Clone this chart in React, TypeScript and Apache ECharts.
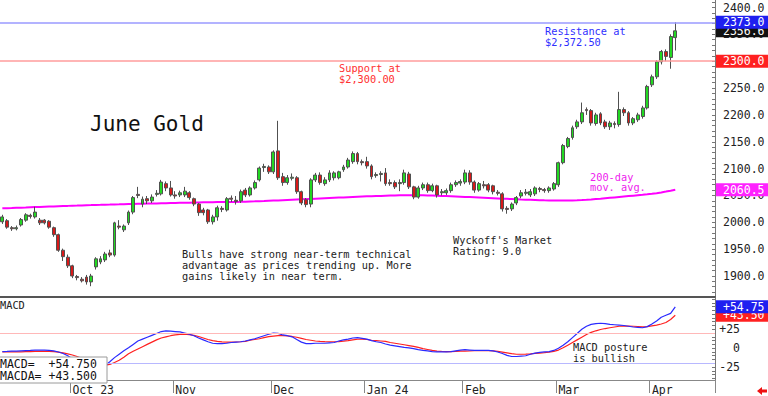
import React, { useEffect, useRef } from 'react';
import * as echarts from 'echarts';

// ---------- categories (trading days) ----------
const START = '2023-09-11';
const END = '2024-04-08';
const HOLIDAYS = ['2023-11-23', '2023-12-25', '2024-01-01', '2024-01-15', '2024-02-19', '2024-03-29'];
const PAD_SLOTS = 8;
const MONTH_STARTS = ['2023-10-02', '2023-11-01', '2023-12-01', '2024-01-02', '2024-02-01', '2024-03-01', '2024-04-01'];
const MONTH_LABELS = ['Oct 23', 'Nov', 'Dec', 'Jan 24', 'Feb', 'Mar', 'Apr'];

// ---------- price data (June gold) ----------
const OPEN = [
  2001, 2003, 1990, 1988, 1995, 2004, 2013, 2010, 2004, 2004,
  2002, 1990, 1977, 1948, 1935, 1919, 1899, 1894, 1898, 1889,
  1917, 1926, 1930, 1943, 1939, 1993, 1986, 1999, 2019, 2052,
  2034, 2044, 2040, 2052, 2053, 2072, 2064, 2051, 2051, 2051,
  2055, 2044, 2034, 2023, 2023, 2001, 2010, 2026, 2023, 2045,
  2041, 2040, 2060, 2051, 2064, 2079, 2102, 2103, 2094, 2133,
  2085, 2074, 2082, 2083, 2057, 2042, 2034, 2079, 2088, 2072,
  2079, 2083, 2083, 2098, 2103, 2113, 2128, 2113, 2113, 2105,
  2087, 2089, 2092, 2074, 2074, 2072, 2074, 2090, 2066, 2047,
  2064, 2070, 2059, 2068, 2055, 2055, 2059, 2070, 2073, 2075,
  2092, 2075, 2060, 2070, 2070, 2068, 2056, 2053, 2026, 2025,
  2036, 2049, 2054, 2051, 2053, 2063, 2061, 2059, 2062, 2070,
  2111, 2141, 2158, 2178, 2187, 2210, 2208, 2184, 2202, 2187,
  2178, 2184, 2182, 2210, 2204, 2185, 2191, 2197, 2213, 2256,
  2271, 2299, 2318, 2307, 2344,
];
const CLOSE = [
  2010, 1991, 1988, 1990, 2005, 2014, 2011, 2019, 1999, 1999,
  1991, 1977, 1948, 1936, 1919, 1900, 1897, 1891, 1889, 1900,
  1932, 1932, 1941, 1939, 1999, 1991, 1993, 2019, 2046, 2050,
  2043, 2040, 2047, 2054, 2075, 2064, 2051, 2049, 2055, 2058,
  2046, 2034, 2018, 2018, 2001, 2010, 2027, 2024, 2044, 2043,
  2039, 2057, 2051, 2064, 2074, 2101, 2104, 2094, 2131, 2083,
  2074, 2083, 2084, 2057, 2036, 2033, 2079, 2088, 2074, 2079,
  2092, 2092, 2094, 2103, 2116, 2128, 2113, 2111, 2105, 2085,
  2089, 2091, 2072, 2072, 2066, 2074, 2092, 2066, 2047, 2064,
  2070, 2059, 2068, 2051, 2057, 2059, 2070, 2074, 2076, 2092,
  2075, 2060, 2072, 2068, 2060, 2057, 2054, 2025, 2024, 2034,
  2046, 2055, 2056, 2057, 2064, 2061, 2059, 2064, 2072, 2111,
  2143, 2156, 2176, 2187, 2204, 2208, 2185, 2200, 2185, 2178,
  2185, 2182, 2210, 2204, 2185, 2193, 2200, 2213, 2253, 2271,
  2299, 2318, 2309, 2346, 2356.6,
];
const LOW = [
  1997, 1988, 1984, 1985, 1992, 2001, 2007, 2007, 1995, 1996,
  1988, 1973, 1945, 1928, 1915, 1896, 1892, 1888, 1884, 1881,
  1912, 1922, 1926, 1935, 1936, 1987, 1982, 1995, 2015, 2045,
  2028, 2034, 2036, 2048, 2050, 2058, 2048, 2044, 2047, 2047,
  2042, 2030, 2012, 2013, 1997, 1996, 2003, 2019, 2020, 2038,
  2033, 2036, 2047, 2048, 2061, 2076, 2094, 2090, 2090, 2079,
  2068, 2070, 2078, 2053, 2032, 2028, 2028, 2075, 2070, 2068,
  2075, 2078, 2080, 2094, 2100, 2109, 2108, 2106, 2100, 2080,
  2083, 2076, 2068, 2068, 2062, 2058, 2070, 2062, 2043, 2044,
  2060, 2055, 2056, 2046, 2050, 2051, 2055, 2066, 2068, 2071,
  2070, 2055, 2057, 2063, 2056, 2052, 2050, 2020, 2016, 2021,
  2032, 2045, 2050, 2047, 2049, 2056, 2055, 2055, 2059, 2066,
  2108, 2138, 2154, 2174, 2183, 2200, 2180, 2180, 2181, 2174,
  2172, 2175, 2178, 2198, 2180, 2181, 2187, 2193, 2210, 2252,
  2267, 2294, 2300, 2286, 2320,
];
const HIGH = [
  2014, 2006, 1993, 1994, 2008, 2017, 2016, 2029, 2008, 2006,
  2004, 1992, 1979, 1951, 1940, 1921, 1902, 1898, 1902, 1904,
  1935, 1937, 1945, 1949, 2001, 2004, 1996, 2022, 2049, 2066,
  2048, 2049, 2052, 2060, 2079, 2076, 2077, 2058, 2059, 2066,
  2058, 2046, 2036, 2027, 2025, 2014, 2031, 2030, 2047, 2050,
  2049, 2061, 2064, 2067, 2078, 2104, 2109, 2106, 2134, 2189,
  2092, 2088, 2091, 2086, 2059, 2045, 2082, 2092, 2093, 2084,
  2097, 2095, 2096, 2107, 2120, 2132, 2131, 2117, 2122, 2108,
  2093, 2095, 2101, 2080, 2078, 2080, 2098, 2094, 2068, 2068,
  2074, 2074, 2072, 2070, 2062, 2063, 2074, 2078, 2080, 2098,
  2097, 2078, 2075, 2077, 2073, 2070, 2060, 2056, 2030, 2037,
  2049, 2060, 2062, 2062, 2067, 2066, 2064, 2067, 2075, 2113,
  2146, 2159, 2180, 2191, 2223, 2214, 2211, 2204, 2205, 2191,
  2189, 2188, 2243, 2214, 2207, 2196, 2204, 2217, 2256, 2275,
  2302, 2321, 2322, 2350, 2372.5,
];
const MA200 = [
  2026, 2026.3, 2026.6, 2027, 2027.3, 2027.6, 2028, 2028.3, 2028.6, 2029,
  2029.3, 2029.6, 2030, 2030.3, 2030.6, 2031, 2031.2, 2031.5, 2031.8, 2032,
  2032.3, 2032.5, 2032.8, 2033, 2033.3, 2033.5, 2033.8, 2034, 2034.2, 2034.4,
  2034.6, 2034.8, 2035, 2035.2, 2035.4, 2035.6, 2035.8, 2036, 2036.2, 2036.4,
  2036.6, 2036.8, 2037, 2037.2, 2037.4, 2037.5, 2037.6, 2037.7, 2037.8, 2037.9,
  2038, 2038.2, 2038.5, 2038.8, 2039, 2039.3, 2039.6, 2040, 2040.4, 2040.8,
  2041.2, 2041.6, 2042, 2042.4, 2042.8, 2043.2, 2043.6, 2044, 2044.4, 2044.8,
  2045.2, 2045.6, 2046, 2046.4, 2046.8, 2047.2, 2047.6, 2048, 2048.3, 2048.6,
  2048.9, 2049.2, 2049.5, 2049.8, 2050, 2050.2, 2050.4, 2050.5, 2050.5, 2050.4,
  2050.2, 2050, 2049.7, 2049.4, 2049.1, 2048.8, 2048.5, 2048.1, 2047.7, 2047.3,
  2046.9, 2046.5, 2046.1, 2045.7, 2045.3, 2044.9, 2044.5, 2044.1, 2043.7, 2043.3,
  2042.9, 2042.5, 2042.2, 2041.9, 2041.6, 2041.3, 2041, 2040.8, 2040.6, 2040.5,
  2040.5, 2040.6, 2040.8, 2041.1, 2041.5, 2042, 2042.6, 2043.3, 2044, 2044.8,
  2045.6, 2046.4, 2047.2, 2048, 2048.8, 2049.6, 2050.4, 2051.2, 2052.1, 2053.1,
  2054.3, 2055.7, 2057.2, 2058.8, 2060.5,
];

// ---------- MACD ----------
const MACD = [
  -4.5, -4.3, -4, -3.8, -3.5, -3.2, -3, -2.6, -2.5, -2.5,
  -2.8, -3.5, -5, -7, -10, -14, -18, -22, -26, -29,
  -30, -27, -23, -18, -12.5, -8, -3.5, 0.5, 5, 9.5,
  12, 14.5, 17, 19.5, 22, 23, 22.5, 22, 21.5, 20,
  18.5, 16.5, 13.5, 11, 8.5, 6.5, 6, 6, 6.5, 7.5,
  8, 8.5, 9.5, 11, 12.5, 14.5, 16.5, 18.5, 20, 19.5,
  17.5, 16.5, 15, 11.5, 8, 6, 6, 6.5, 6.5, 6.5,
  7, 7.5, 9.5, 11, 12, 13.5, 14, 13, 12, 10,
  8.5, 7.5, 5.5, 4, 3, 2, 1, 0.5, -0.5, -2,
  -3, -3.5, -4.5, -5, -5, -5, -4.5, -3.5, -2.5, -2,
  -2.5, -3, -3, -3, -3, -3.5, -5, -7, -9.5, -11,
  -11, -10.5, -10, -8, -6.5, -5.5, -5, -4.5, -3, 0,
  4, 8.5, 14, 19.5, 25, 29, 31.5, 32.5, 33, 32.5,
  31.5, 31, 30.5, 30, 29, 28, 27.5, 27, 28.5, 32,
  36, 41, 43.5, 46, 54.75,
];
const MACDA = [
  -5, -5, -5, -5, -4.8, -4.6, -4.5, -4.3, -4.2, -4.2,
  -4.3, -4.6, -5.2, -6.2, -7.5, -9, -11, -13.5, -16, -18.5,
  -20.5, -22, -22.5, -21.5, -19, -16, -12, -7.5, -4, -1,
  2, 5, 8, 11, 13.5, 15, 16.5, 17.5, 18.3, 18.7,
  18, 17, 15.5, 13.5, 11.5, 10, 9, 8.3, 8, 8,
  8.2, 8.5, 9, 10.5, 11.5, 12.5, 14, 15.2, 16, 16.7,
  16.7, 16.3, 15.5, 14.5, 13, 11.5, 10.5, 9.5, 9, 8.7,
  8.5, 8.5, 8.8, 9.3, 10, 11, 11.8, 12, 11.5, 10.5,
  10, 9.5, 9, 7.5, 6.5, 5.5, 4.5, 3.5, 2.5, 1,
  -0.5, -1.7, -3, -3.8, -4.2, -4.5, -4.5, -4.3, -4, -4,
  -3.7, -3.4, -3.3, -3.3, -3.3, -3.5, -4.2, -5.2, -6.2, -7.2,
  -8, -8, -7.8, -7.5, -7, -6.5, -6, -5.2, -4.3, -2.5,
  0.5, 4, 7.5, 11, 14.5, 18, 21, 23, 24.7, 26,
  27, 28, 29, 29.2, 29.2, 29, 28.7, 28.3, 28.5, 29.5,
  30.5, 32, 34, 38, 43.5,
];

const PRICE_TICKS = [1900, 1950, 2000, 2050, 2100, 2150, 2200, 2250, 2300, 2350, 2400];
const MACD_TICKS = [-25, 0, 25];
const RESISTANCE = 2372.5;
const SUPPORT = 2300;
const MACD_BANDS = [20, -20];

const MONO = '"DejaVu Sans Mono", monospace';
const HIDDEN_LINE = { color: 'rgba(0,0,0,0)', width: 0 };

function buildDates(): string[] {
  const out: string[] = [];
  const d = new Date(START + 'T00:00:00Z');
  const end = new Date(END + 'T00:00:00Z');
  while (d <= end) {
    const dow = d.getUTCDay();
    const s = d.toISOString().slice(0, 10);
    if (dow !== 0 && dow !== 6 && !HOLIDAYS.includes(s)) out.push(s);
    d.setUTCDate(d.getUTCDate() + 1);
  }
  return out;
}

function fmtSigned(v: number, digits: number) {
  return (v > 0 ? '+' : '') + v.toFixed(digits);
}

export default function App() {
  const ref = useRef<HTMLDivElement>(null);
  useEffect(() => {
    if (!ref.current) return;
    const chart = echarts.init(ref.current, null, { renderer: 'svg' });
    const dates = buildDates();
    const cats = dates.concat(Array.from({ length: PAD_SLOTS }, (_, k) => 'pad' + k));
    const monthIdx = new Map<string, string>();
    MONTH_STARTS.forEach((m, k) => monthIdx.set(m, MONTH_LABELS[k]));
    const isMonth = (_i: number, v: string) => monthIdx.has(v);

    const candles = dates.map((_, i) => [OPEN[i], CLOSE[i], LOW[i], HIGH[i]]);
    const last = dates.length - 1;
    const priceTicks: number[] = [];
    for (let v = 1870; v <= 2410; v += 10) priceTicks.push(v);
    const macdTicks: number[] = [];
    for (let v = -40; v <= 65; v += 5) macdTicks.push(v);

    const boxLabel = (bg: string, text: string) => ({
      show: true,
      position: 'end',
      distance: 1,
      formatter: text,
      color: '#fff',
      backgroundColor: bg,
      padding: [1, 10, 0, 7],
      fontFamily: MONO,
      fontSize: 11.5,
      lineHeight: 12,
    });

    const smallText = (text: string, x: number, y: number, fill: string, lh = 10.7) => ({
      type: 'text',
      x,
      y,
      z: 50,
      style: { text, fill, fontFamily: MONO, fontSize: 10.3, lineHeight: lh, verticalAlign: 'top' },
    });

    chart.setOption({
      animation: false,
      backgroundColor: '#fff',
      grid: [
        { left: 0, right: 53, top: 0, height: 297 },
        { left: 0, right: 53, top: 298, height: 85 },
      ],
      xAxis: [
        {
          type: 'category', gridIndex: 0, data: cats, boundaryGap: true,
          axisLine: { show: true, onZero: false, lineStyle: { color: '#555', width: 2 } },
          axisTick: { show: false }, axisLabel: { show: false }, splitLine: { show: false },
        },
        {
          type: 'category', gridIndex: 1, data: cats, boundaryGap: true,
          axisLine: { show: true, onZero: false, lineStyle: { color: '#888', width: 1 } },
          axisTick: { show: true, interval: isMonth, length: 13, lineStyle: { color: '#888' } },
          axisLabel: {
            show: true, interval: isMonth, align: 'left', margin: 4,
            formatter: (v: string) => monthIdx.get(v) || '',
            color: '#222', fontFamily: MONO, fontSize: 11.5,
          },
          splitLine: { show: false },
        },
      ],
      yAxis: [
        {
          type: 'value', gridIndex: 0, position: 'right', min: 1860.9, max: 2414,
          axisLine: { show: true, lineStyle: { color: '#777', width: 1 } },
          axisTick: { show: true, inside: true, length: 3, customValues: priceTicks, lineStyle: { color: '#777' } },
          axisLabel: {
            show: true, customValues: PRICE_TICKS, margin: 8,
            formatter: (v: number) => v.toFixed(1),
            color: '#222', fontFamily: MONO, fontSize: 11.5,
          },
          splitLine: { show: false },
        },
        {
          type: 'value', gridIndex: 1, position: 'right', min: -42.1, max: 66.4,
          axisLine: { show: true, lineStyle: { color: '#777', width: 1 } },
          axisTick: { show: true, inside: true, length: 3, customValues: macdTicks, lineStyle: { color: '#777' } },
          axisLabel: {
            show: true, customValues: MACD_TICKS, margin: 25, align: 'right',
            formatter: (v: number) => (v > 0 ? '+' + v : String(v)),
            color: '#222', fontFamily: MONO, fontSize: 11.5,
          },
          splitLine: { show: false },
        },
      ],
      series: [
        {
          type: 'line', xAxisIndex: 0, yAxisIndex: 0, data: MA200, symbol: 'none', z: 2,
          lineStyle: { color: '#ff00ff', width: 2 },
          markLine: {
            silent: true, symbol: ['none', 'none'],
            data: [{ yAxis: MA200[last], lineStyle: HIDDEN_LINE, label: boxLabel('#ff22ff', MA200[last].toFixed(1)) }],
          },
        },
        {
          type: 'candlestick', xAxisIndex: 0, yAxisIndex: 0, data: candles, barWidth: 3.4, z: 3,
          itemStyle: {
            color: '#22d822', color0: '#d81818',
            borderColor: '#505050', borderColor0: '#505050', borderWidth: 1,
          },
          markLine: {
            silent: true, symbol: ['none', 'none'],
            data: [
              { yAxis: CLOSE[last], lineStyle: HIDDEN_LINE, label: boxLabel('#111', CLOSE[last].toFixed(1)) },
              { yAxis: SUPPORT, lineStyle: { color: '#ff9c9c', width: 1.5, type: 'solid' }, label: boxLabel('#ff2020', SUPPORT.toFixed(1)) },
              { yAxis: RESISTANCE, lineStyle: { color: '#9a9aff', width: 1.5, type: 'solid' }, label: boxLabel('#1f1ff0', Math.round(RESISTANCE).toFixed(1)) },
            ],
          },
        },
        {
          type: 'line', xAxisIndex: 1, yAxisIndex: 1, data: MACDA, symbol: 'none', z: 3,
          lineStyle: { color: '#ff2020', width: 1.2 },
          markLine: {
            silent: true, symbol: ['none', 'none'],
            data: [
              { yAxis: MACD_BANDS[0], lineStyle: { color: '#ffb8b8', width: 1, type: 'solid' }, label: { show: false } },
              { yAxis: MACD_BANDS[1], lineStyle: { color: '#b8b8ff', width: 1, type: 'solid' }, label: { show: false } },
              { yAxis: MACDA[last], lineStyle: HIDDEN_LINE, label: boxLabel('#ff2020', fmtSigned(MACDA[last], 2)) },
            ],
          },
        },
        {
          type: 'line', xAxisIndex: 1, yAxisIndex: 1, data: MACD, symbol: 'none', z: 4,
          lineStyle: { color: '#2a2aff', width: 1.2 },
          markLine: {
            silent: true, symbol: ['none', 'none'], z: 6,
            data: [{ yAxis: MACD[last], lineStyle: HIDDEN_LINE, label: boxLabel('#1f1ff0', fmtSigned(MACD[last], 2)) }],
          },
        },
      ],
      graphic: [
        {
          type: 'text', x: 90, y: 124, z: 50,
          style: { text: 'June Gold', fill: '#111', fontFamily: MONO, fontSize: 21, verticalAlign: 'middle' },
        },
        smallText('Support at\n$2,300.00', 339, 63, '#ff3030'),
        smallText('Resistance at\n$2,372.50', 545, 25.8, '#2f2fff'),
        smallText('Bulls have strong near-term technical\nadvantage as prices trending up. More\ngains likely in near term.', 182, 249, '#222'),
        smallText("Wyckoff's Market\nRating: 9.0", 453, 234.8, '#222', 10.5),
        smallText('200-day\nmov. avg.', 590, 171.3, '#ee22ee', 10.8),
        smallText('MACD posture\nis bullish', 573, 341.3, '#222', 11),
        smallText('MACD', 0, 300, '#222'),
        {
          type: 'rect', z: 100,
          shape: { x: -1, y: 357, width: 108, height: 26 },
          style: { fill: '#fff', stroke: '#9a9a9a', lineWidth: 1 },
        },
        {
          type: 'text', x: 0, y: 357.5, z: 101,
          style: {
            text: 'MACD=  ' + fmtSigned(MACD[last], 3) + '\nMACDA= ' + fmtSigned(MACDA[last], 3),
            fill: '#111', fontFamily: MONO, fontSize: 11.5, lineHeight: 12, verticalAlign: 'top',
          },
        },
        {
          type: 'polygon', z: 50,
          shape: { points: [[757, 391], [762, 387], [762, 389.5], [767, 389.5], [767, 392.5], [762, 392.5], [762, 395]] },
          style: { fill: '#ee1111' },
        },
      ],
    });
    return () => chart.dispose();
  }, []);
  return <div ref={ref} style={{ position: 'fixed', left: 0, top: 0, width: 768, height: 396 }} />;
}
